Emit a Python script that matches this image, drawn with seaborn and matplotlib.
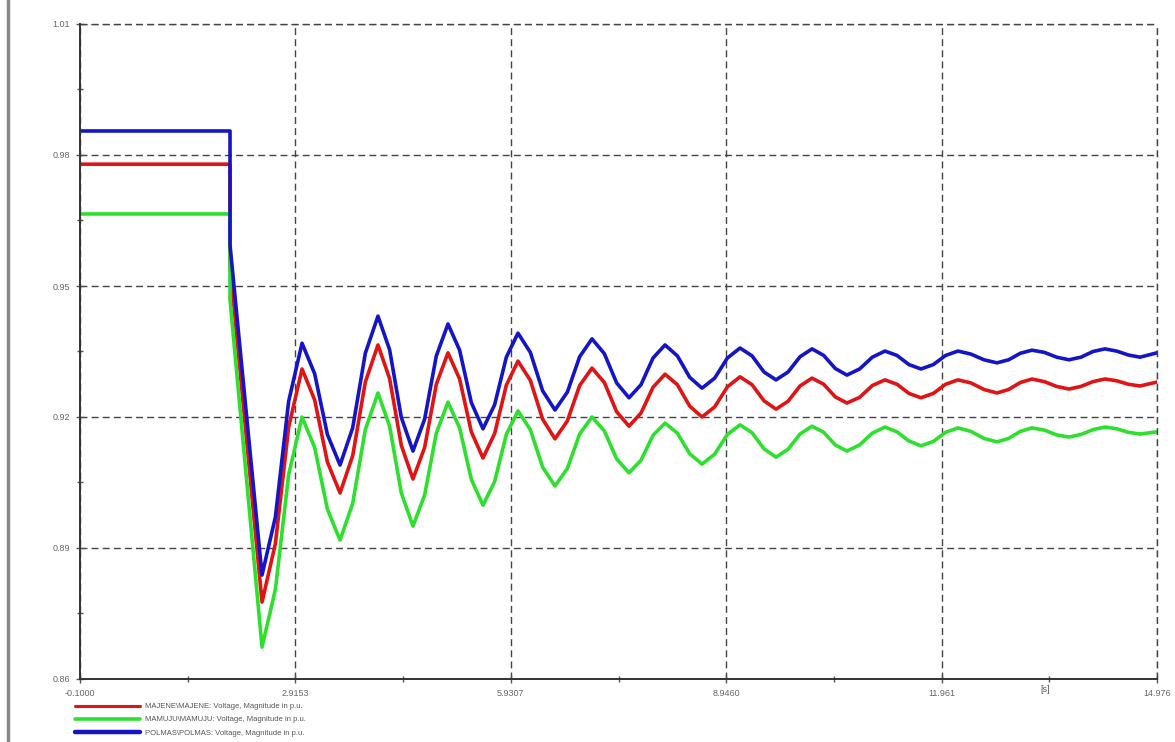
import numpy as np
import pandas as pd
import matplotlib
matplotlib.use("Agg")
import matplotlib.pyplot as plt
from matplotlib.lines import Line2D
from matplotlib.ticker import FixedLocator
import seaborn as sns

# ── data (time in s, voltage in p.u.) ──
time_s = [-0.1, 2.0, 2.0, 2.448, 2.635, 2.821, 3.008, 3.185, 3.363, 3.540, 3.717, 3.894,
          4.071, 4.234, 4.398, 4.561, 4.724, 4.888, 5.051, 5.214, 5.378, 5.541, 5.704, 5.868,
          6.031, 6.204, 6.376, 6.549, 6.722, 6.894, 7.067, 7.240, 7.412, 7.585, 7.753, 7.921,
          8.089, 8.262, 8.434, 8.607, 8.784, 8.962, 9.139, 9.307, 9.475, 9.643, 9.811, 9.979,
          10.147, 10.310, 10.473, 10.636, 10.813, 10.991, 11.168, 11.336, 11.504, 11.672,
          11.845, 12.017, 12.190, 12.372, 12.554, 12.736, 12.899, 13.063, 13.226, 13.399,
          13.571, 13.744, 13.912, 14.080, 14.248, 14.411, 14.575, 14.738, 14.976]

majene = [0.9779, 0.9779, 0.9548, 0.8776, 0.8910, 0.9177, 0.9310, 0.9239, 0.9097, 0.9026,
          0.9111, 0.9280, 0.9365, 0.9288, 0.9135, 0.9058, 0.9130, 0.9275, 0.9347, 0.9287,
          0.9166, 0.9106, 0.9162, 0.9273, 0.9328, 0.9284, 0.9195, 0.9150, 0.9191, 0.9272,
          0.9312, 0.9279, 0.9212, 0.9179, 0.9209, 0.9268, 0.9298, 0.9274, 0.9225, 0.9200,
          0.9223, 0.9269, 0.9292, 0.9274, 0.9237, 0.9218, 0.9236, 0.9271, 0.9289, 0.9275,
          0.9246, 0.9232, 0.9245, 0.9272, 0.9285, 0.9275, 0.9254, 0.9244, 0.9254, 0.9275,
          0.9285, 0.9278, 0.9263, 0.9255, 0.9263, 0.9279, 0.9287, 0.9281, 0.9270, 0.9264,
          0.9270, 0.9281, 0.9287, 0.9283, 0.9275, 0.9271, 0.9280]

mamuju = [0.9665, 0.9665, 0.9468, 0.8673, 0.8805, 0.9068, 0.9200, 0.9130, 0.8989, 0.8918,
          0.9002, 0.9171, 0.9255, 0.9179, 0.9026, 0.8950, 0.9021, 0.9163, 0.9234, 0.9175,
          0.9057, 0.8998, 0.9052, 0.9160, 0.9214, 0.9171, 0.9085, 0.9042, 0.9082, 0.9161,
          0.9200, 0.9168, 0.9104, 0.9072, 0.9101, 0.9158, 0.9186, 0.9163, 0.9116, 0.9092,
          0.9115, 0.9160, 0.9182, 0.9164, 0.9127, 0.9108, 0.9126, 0.9161, 0.9179, 0.9165,
          0.9136, 0.9122, 0.9136, 0.9163, 0.9177, 0.9166, 0.9145, 0.9134, 0.9144, 0.9165,
          0.9175, 0.9167, 0.9151, 0.9143, 0.9151, 0.9167, 0.9175, 0.9170, 0.9159, 0.9154,
          0.9160, 0.9171, 0.9177, 0.9173, 0.9165, 0.9161, 0.9166]

polmas = [0.9855, 0.9855, 0.9594, 0.8838, 0.8971, 0.9236, 0.9369, 0.9299, 0.9160, 0.9090,
          0.9175, 0.9346, 0.9431, 0.9354, 0.9199, 0.9122, 0.9195, 0.9340, 0.9413, 0.9353,
          0.9233, 0.9173, 0.9228, 0.9337, 0.9392, 0.9348, 0.9260, 0.9216, 0.9257, 0.9338,
          0.9379, 0.9345, 0.9278, 0.9244, 0.9274, 0.9335, 0.9365, 0.9340, 0.9291, 0.9266,
          0.9289, 0.9335, 0.9358, 0.9340, 0.9303, 0.9285, 0.9303, 0.9338, 0.9356, 0.9341,
          0.9311, 0.9296, 0.9310, 0.9337, 0.9351, 0.9341, 0.9320, 0.9310, 0.9320, 0.9341,
          0.9351, 0.9344, 0.9331, 0.9324, 0.9331, 0.9346, 0.9353, 0.9348, 0.9337, 0.9331,
          0.9337, 0.9350, 0.9356, 0.9351, 0.9342, 0.9337, 0.9347]

series_names = ["MAJENE\\MAJENE: Voltage, Magnitude in p.u.",
                "MAMUJU\\MAMUJU: Voltage, Magnitude in p.u.",
                "POLMAS\\POLMAS: Voltage, Magnitude in p.u."]
x_ticks = [-0.1000, 2.9153, 5.9307, 8.9460, 11.961, 14.976]
x_labels = ["-0.1000", "2.9153", "5.9307", "8.9460", "11.961", "14.976"]
y_ticks = [0.86, 0.89, 0.92, 0.95, 0.98, 1.01]
y_labels = ["0.86", "0.89", "0.92", "0.95", "0.98", "1.01"]

COLORS = ["#E01414", "#2EE02E", "#1414C8"]

df = pd.concat([
    pd.DataFrame({"t": time_s, "v": vals, "bus": name})
    for name, vals in zip(series_names, [majene, mamuju, polmas])
], ignore_index=True)

sns.set_style("white")
plt.rcParams["font.family"] = ["Liberation Sans", "DejaVu Sans"]

fig = plt.figure(figsize=(11.75, 7.42), dpi=100)
ax = fig.add_axes([80 / 1175, 1 - 679 / 742, 1077 / 1175, 655 / 742])

sns.lineplot(data=df, x="t", y="v", hue="bus", palette=COLORS, estimator=None,
             sort=False, linewidth=2.6, ax=ax, legend=False)
for ln in ax.get_lines():
    ln.set_solid_joinstyle("round")
    ln.set_solid_capstyle("round")

ax.set_xlim(x_ticks[0], x_ticks[-1])
ax.set_ylim(y_ticks[0], y_ticks[-1])
ax.xaxis.set_major_locator(FixedLocator(x_ticks))
ax.set_xticklabels(x_labels)
ax.xaxis.set_minor_locator(FixedLocator([(a + b) / 2 for a, b in zip(x_ticks[:-1], x_ticks[1:])]))
ax.yaxis.set_major_locator(FixedLocator(y_ticks))
ax.set_yticklabels(y_labels)
ax.yaxis.set_minor_locator(FixedLocator([(a + b) / 2 for a, b in zip(y_ticks[:-1], y_ticks[1:])]))
ax.set_xlabel("")
ax.set_ylabel("")

ax.grid(True, which="major", linestyle=(0, (5, 3)), color="#444444", linewidth=1.0)
ax.axvline(x_ticks[-1], linestyle=(0, (5, 3)), color="#444444", linewidth=1.0, clip_on=False)
ax.axhline(y_ticks[-1], linestyle=(0, (5, 3)), color="#444444", linewidth=1.0, clip_on=False)
for s in ["top", "right"]:
    ax.spines[s].set_visible(False)
for s in ["left", "bottom"]:
    ax.spines[s].set_color("#333333")
    ax.spines[s].set_linewidth(1.4)

ax.tick_params(axis="both", which="major", direction="inout", length=6, width=1,
               colors="#555555", labelsize=6.5, labelcolor="#666666", pad=4,
               bottom=True, left=True)
ax.tick_params(axis="both", which="minor", direction="inout", length=5, width=1,
               colors="#555555", bottom=True, left=True)

ax.text(1045 / 1175, 1 - 689 / 742, "[s]", transform=fig.transFigure, fontsize=6.5,
        color="#555555", ha="center", va="center")

handles = [Line2D([], [], color=c, linewidth=lw) for c, lw in zip(COLORS, [2.2, 2.6, 3.2])]
fig.legend(handles, series_names, loc="upper left", bbox_to_anchor=(72 / 1175, 1 - 700 / 742),
           frameon=False, fontsize=5.5, handlelength=8.5, handletextpad=0.7,
           labelspacing=0.75, borderaxespad=0, labelcolor="#555555")

# left window border
fig.add_artist(Line2D([8 / 1175, 8 / 1175], [0, 1], color="#888888", linewidth=2.5))

fig.savefig("out.png", dpi=100)
